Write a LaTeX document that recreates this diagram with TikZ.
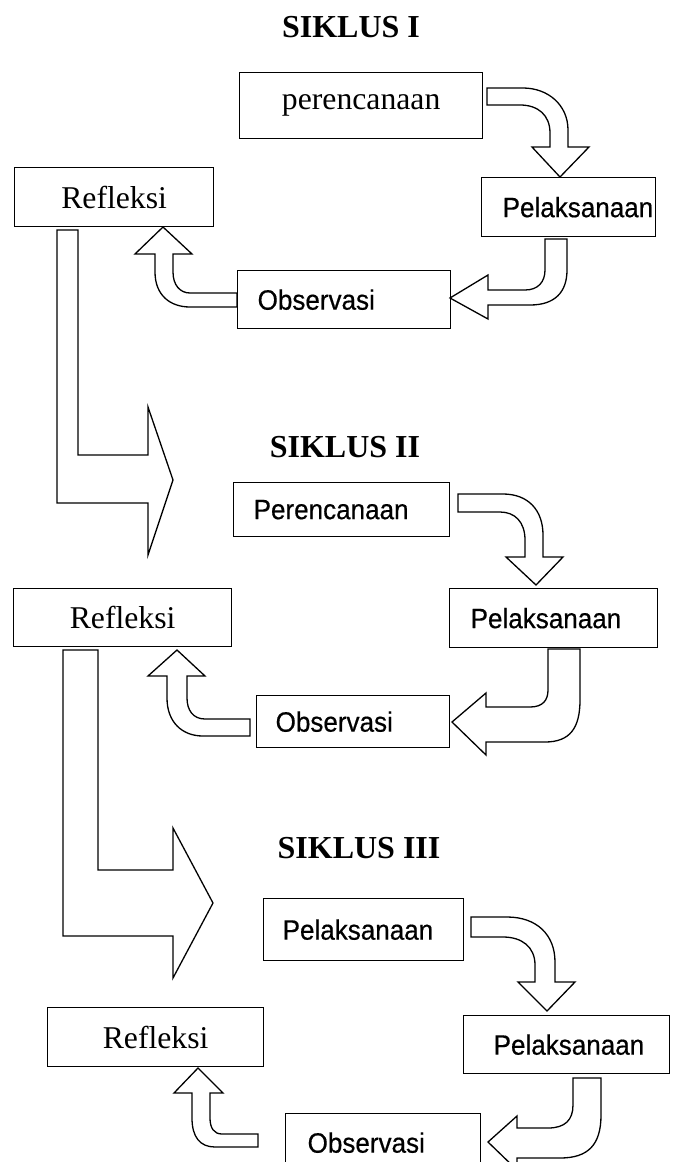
\documentclass[tikz,border=0pt]{standalone}
\usepackage{fontspec}
\setmainfont{Liberation Serif}
\setsansfont{Liberation Sans}
\newfontfamily\boxsans[FakeStretch=0.93,FakeBold=0.5]{Liberation Sans}
\tikzset{
  box/.style={draw, line width=1.3pt, inner sep=0pt, anchor=north west},
  blk/.style={draw, line width=1.3pt, line join=miter},
  serif/.style={font=\rmfamily\fontsize{31.7}{36}\selectfont},
  sans/.style={font=\boxsans\fontsize{28}{32}\selectfont},
  ttl/.style={font=\rmfamily\bfseries\fontsize{32}{36}\selectfont, anchor=base, inner sep=0pt},
}
\newcommand{\padtext}[3]{\makebox[#1pt][l]{\hspace{#2pt}#3}}
\begin{document}
\begin{tikzpicture}[x=1pt,y=-1pt]
\useasboundingbox (0,0) rectangle (677,1162);
\clip (0,0) rectangle (677,1162);

% ---------- SIKLUS I ----------
\node[ttl] (t1) at (351,37) {SIKLUS I};
\node[box, serif, minimum width=243pt, minimum height=66pt] (a1) at (239,72) {perencanaan};
\node[box, sans, minimum width=174pt, minimum height=59pt] (b1) at (481,177) {\padtext{174}{21}{Pelaksanaan}};
\node[box, sans, minimum width=213pt, minimum height=58pt] (c1) at (237,270) {\padtext{213}{20}{Observasi}};
\node[box, serif, minimum width=199pt, minimum height=59pt] (d1) at (14,167) {Refleksi};

% a1 -> b1
\draw[blk] (487,88) -- (523,88) .. controls (548,88) and (568,105) .. (568,130) -- (568,147) -- (589,147) -- (560,177) -- (532,147) -- (550,147) -- (550,133) .. controls (550,115) and (538,105) .. (520,105) -- (487,105) -- cycle;
% b1 -> c1
\draw[blk] (545,239) -- (567,239) -- (567,270) .. controls (567,292) and (555,305) .. (530,305) -- (488,305) -- (488,319) -- (450,298) -- (488,275) -- (488,290) -- (525,290) .. controls (538,290) and (545,282) .. (545,270) -- cycle;
% c1 -> d1
\draw[blk] (237,293) -- (190,293) .. controls (180,293) and (173,285) .. (173,272) -- (173,254) -- (192,254) -- (163,227) -- (135,254) -- (155,254) -- (155,272) .. controls (155,295) and (170,307) .. (190,307) -- (237,307) -- cycle;
% d1 -> siklus II
\draw[blk] (57,230) -- (78,230) -- (78,455) -- (148,455) -- (148,407) -- (173,480) -- (148,555) -- (148,503) -- (57,503) -- cycle;

% ---------- SIKLUS II ----------
\node[ttl] (t2) at (345,457) {SIKLUS II};
\node[box, sans, minimum width=216pt, minimum height=54pt] (a2) at (233,482) {\padtext{216}{20}{Perencanaan}};
\node[box, sans, minimum width=208pt, minimum height=59pt] (b2) at (449,588) {\padtext{208}{21}{Pelaksanaan}};
\node[box, sans, minimum width=193pt, minimum height=52pt] (c2) at (256,695) {\padtext{193}{19}{Observasi}};
\node[box, serif, minimum width=218pt, minimum height=58pt] (d2) at (13,588) {Refleksi};

% a2 -> b2
\draw[blk] (458,494) -- (503,494) .. controls (528,494) and (543,510) .. (543,535) -- (543,557) -- (563,557) -- (536,585) -- (506,557) -- (525,557) -- (525,540) .. controls (525,522) and (515,512) .. (500,512) -- (458,512) -- cycle;
% b2 -> c2
\draw[blk] (548,649) -- (580,649) -- (580,700) .. controls (580,728) and (570,742) .. (545,742) -- (486,742) -- (486,755) -- (452,722) -- (486,693) -- (486,707) -- (530,707) .. controls (543,707) and (548,700) .. (548,690) -- cycle;
% c2 -> d2
\draw[blk] (250,719) -- (205,719) .. controls (193,719) and (187,710) .. (187,698) -- (187,676) -- (205,676) -- (177,650) -- (148,676) -- (167,676) -- (167,698) .. controls (167,722) and (182,736) .. (203,736) -- (250,736) -- cycle;
% d2 -> siklus III
\draw[blk] (63,650) -- (98,650) -- (98,870) -- (173,870) -- (173,828) -- (213,903) -- (173,978) -- (173,936) -- (63,936) -- cycle;

% ---------- SIKLUS III ----------
\node[ttl] (t3) at (359,858) {SIKLUS III};
\node[box, sans, minimum width=200pt, minimum height=62pt] (a3) at (263,898) {\padtext{200}{19}{Pelaksanaan}};
\node[box, sans, minimum width=206pt, minimum height=58pt] (b3) at (463,1015) {\padtext{206}{30}{Pelaksanaan}};
\node[box, sans, minimum width=195pt, minimum height=58pt] (c3) at (285,1113) {\padtext{195}{22}{Observasi}};
\node[box, serif, minimum width=216pt, minimum height=59pt] (d3) at (47,1007) {Refleksi};

% a3 -> b3
\draw[blk] (471,917) -- (507,917) .. controls (537,917) and (555,935) .. (555,962) -- (555,982) -- (575,982) -- (547,1011) -- (518,982) -- (535,982) -- (535,965) .. controls (535,947) and (522,937) .. (503,937) -- (471,937) -- cycle;
% b3 -> c3
\draw[blk] (573,1078) -- (601,1078) -- (601,1115) .. controls (601,1145) and (588,1158) .. (560,1158) -- (517,1158) -- (517,1170) -- (488,1142) -- (517,1116) -- (517,1128) -- (548,1128) .. controls (565,1128) and (573,1120) .. (573,1105) -- cycle;
% c3 -> d3
\draw[blk] (258,1134) -- (222,1134) .. controls (214,1134) and (210,1128) .. (210,1118) -- (210,1093) -- (223,1093) -- (198,1068) -- (174,1093) -- (192,1093) -- (192,1118) .. controls (192,1137) and (200,1147) .. (215,1147) -- (258,1147) -- cycle;
\end{tikzpicture}
\end{document}
